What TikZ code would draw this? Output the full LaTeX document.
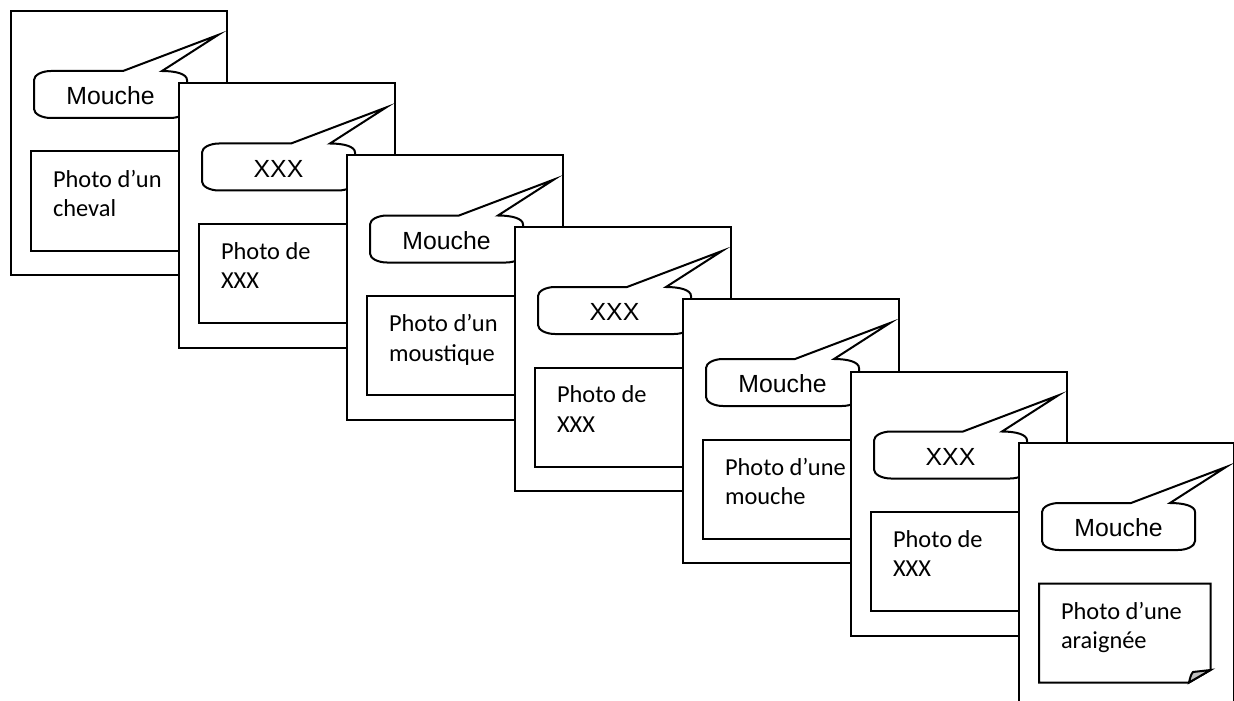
\documentclass[tikz,border=0pt]{standalone}
\usepackage{fontspec}
\newfontfamily\arialfont{Liberation Sans}
\newfontfamily\calibrifont{Carlito}
\tikzset{
  x=0.5pt, y=-0.5pt,
  every path/.style={line width=1pt, line join=miter},
  cardbox/.style={draw, fill=white, line width=1pt, anchor=north west, inner sep=0pt,
    minimum width=108pt, minimum height=132pt},
  calloutshape/.style={draw, fill=white},
  photoframe/.style={draw, fill=white},
  foldshade/.style={draw, fill=black!25},
  callouttext/.style={font=\arialfont\fontsize{12.4}{14}\selectfont, inner sep=0pt, anchor=center},
  phototext/.style={font=\calibrifont\fontsize{12.2}{14.65}\selectfont, inner sep=0pt,
    align=left, anchor=north west}
}
\newcommand\calloutpath{%
  (41,61) -- (113,61) -- (208,25) -- (152,61)
  .. controls (166,61) and (177,64) .. (177,70) -- (177,99)
  .. controls (177,104) and (169,108) .. (160,108) -- (41,108)
  .. controls (32,108) and (24,104) .. (24,99) -- (24,70)
  .. controls (24,65) and (32,61) .. (41,61) -- cycle}
\newcommand\makecard[5]{%
  \begin{scope}[shift={(#2,#3)}]
    \node[cardbox] (#1) at (0,0) {};
    \draw[calloutshape] \calloutpath;
    \node[callouttext] (#1say) at (100.5,86) {#4};
    \draw[photoframe] (21,141.5) rectangle (192.5,240.5);
    \node[phototext] (#1photo) at (42,159) {#5};
  \end{scope}}
\begin{document}
\begin{tikzpicture}
\useasboundingbox (0,0) rectangle (1234,700);
\makecard{cardA}{10}{10}{Mouche}{Photo d’un\\cheval}
\makecard{cardB}{178}{82.5}{XXX}{Photo de\\XXX}
\makecard{cardC}{346}{154.5}{Mouche}{Photo d’un\\moustique}
\makecard{cardD}{514}{226}{XXX}{Photo de\\XXX}
\makecard{cardE}{682}{298}{Mouche}{Photo d’une\\mouche}
\makecard{cardF}{850}{370.5}{XXX}{Photo de\\XXX}
\begin{scope}[shift={(1018,442)}]
  \node[cardbox, minimum width=107.5pt] (cardG) at (0,0) {};
  \draw[calloutshape] \calloutpath;
  \node[callouttext] (cardGsay) at (100.5,86) {Mouche};
  \draw[photoframe] (21,141.5) -- (192.5,141.5) -- (192.5,228) -- (171,240.5) -- (21,240.5) -- cycle;
  \draw[foldshade] (192.5,228) -- (171,240.5) .. controls (172,236) and (173,232) .. (175,230) -- cycle;
  \node[phototext] (cardGphoto) at (42,159) {Photo d’une\\araignée};
\end{scope}
\end{tikzpicture}
\end{document}
